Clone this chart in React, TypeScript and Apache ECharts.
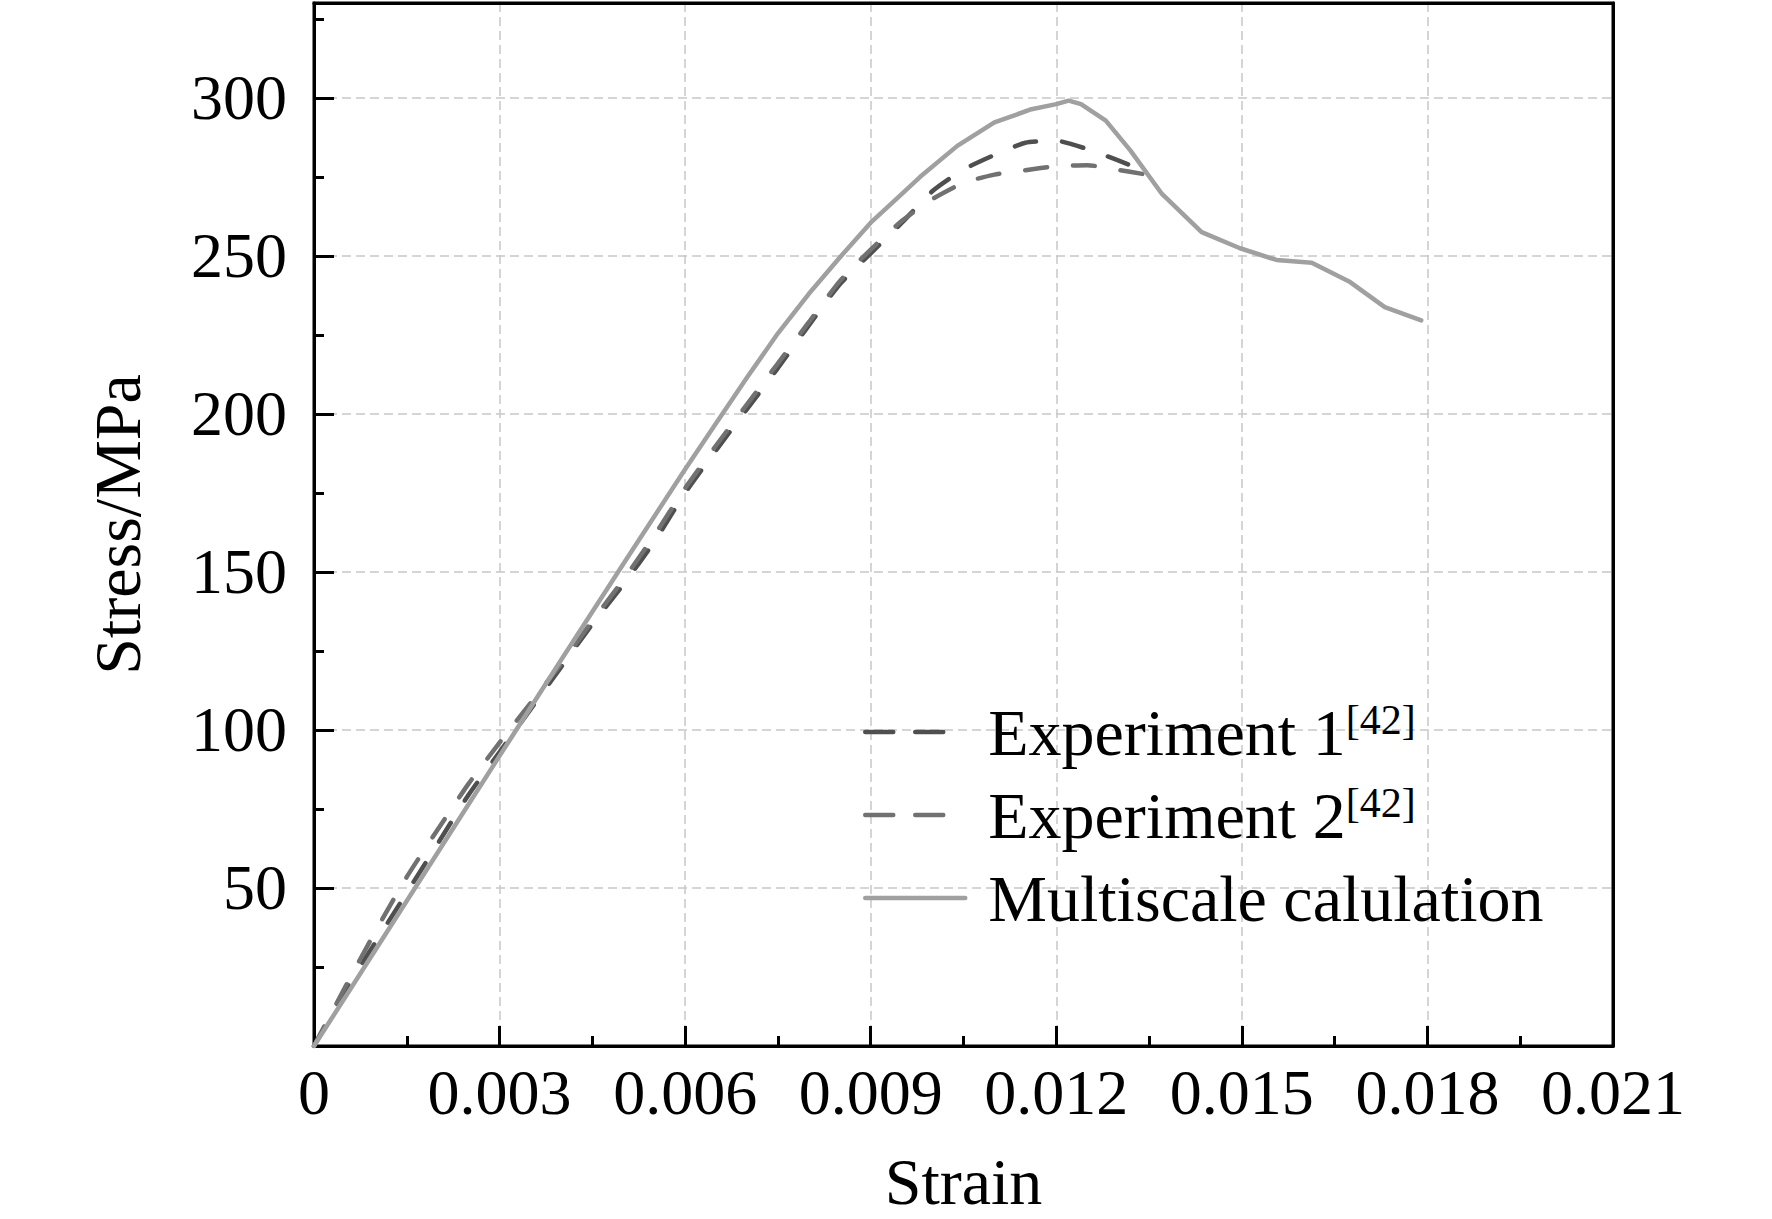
import * as echarts from "echarts";
import { useEffect, useRef } from "react";

// strain / stress readings from the figure
const exp1Strain = [0, 0.0005, 0.001, 0.0015, 0.002, 0.0025, 0.003, 0.0035, 0.004, 0.0045, 0.005, 0.0055, 0.006, 0.0065, 0.007, 0.0075, 0.008, 0.0085, 0.009, 0.0095, 0.01, 0.0105, 0.011, 0.0115, 0.012, 0.0125, 0.013, 0.0134];
const exp1Stress = [0, 17.5, 33, 48.5, 64, 79.5, 93, 106.5, 120, 133.5, 146, 159.5, 175, 188.5, 201.5, 214.5, 228, 241, 250.8, 260.4, 270.5, 277.3, 281.9, 285.8, 286.4, 283.8, 280.2, 277];

const exp2Strain = [0, 0.0005, 0.001, 0.0015, 0.002, 0.0025, 0.003, 0.0035, 0.004, 0.0045, 0.005, 0.0055, 0.006, 0.0065, 0.007, 0.0075, 0.008, 0.0085, 0.009, 0.0095, 0.01, 0.0105, 0.011, 0.0115, 0.012, 0.0125, 0.013, 0.0134];
const exp2Stress = [0, 18.5, 36.5, 53.5, 68.5, 83, 96, 108.5, 121, 134.5, 147.5, 161.5, 176.5, 190, 203, 216, 229, 242, 252, 261, 268, 273.1, 275.7, 277.1, 278.4, 278.7, 277.2, 275.9];

const simStrain = [0, 0.001, 0.002, 0.003, 0.004, 0.005, 0.006, 0.0065, 0.007, 0.0075, 0.008, 0.0085, 0.009, 0.0095, 0.0098, 0.0104, 0.011, 0.0116, 0.012, 0.0122, 0.0124, 0.0128, 0.0132, 0.0137, 0.01435, 0.01497, 0.01556, 0.01613, 0.01675, 0.01731, 0.0179];
const simStress = [0, 30.6, 61.2, 91.8, 122.3, 152.5, 182.5, 197, 211.5, 225.5, 238, 249.5, 260.5, 269.5, 275, 284.8, 292.2, 296.4, 298, 299.1, 298, 292.8, 283.3, 269.8, 257.5, 252.4, 248.7, 247.8, 241.7, 233.8, 229.6];

const seriesNames = ["Experiment 1", "Experiment 2", "Multiscale calulation"];
const seriesColors = ["#4f4f4f", "#717171", "#a0a0a0"];
const yMinorTicks = [25, 75, 125, 175, 225, 275, 325];

const font = "'Liberation Serif', 'Times New Roman', serif";

function pairs(xs: number[], ys: number[]) {
  return xs.map((x, i) => [x, ys[i]]);
}

export default function App() {
  const ref = useRef<HTMLDivElement | null>(null);

  useEffect(() => {
    document.body.style.margin = "0";
    if (!ref.current) {
      return;
    }
    const chart = echarts.init(ref.current, undefined, { renderer: "svg" });
    const gridDash = { color: "#c8c8c8", width: 1.5, type: [9, 5] as number[] };
    const frameLine = { show: true, onZero: false, lineStyle: { color: "#000", width: 3 } };
    const hidden = { show: false };
    chart.setOption({
      animation: false,
      backgroundColor: "#fff",
      grid: {
        left: 314,
        top: 3,
        right: 159,
        bottom: 172,
        show: true,
        borderColor: "#000",
        borderWidth: 3
      },
      legend: {
        orient: "vertical",
        left: 858,
        top: 694,
        itemWidth: 100,
        itemHeight: 20,
        itemGap: 17,
        itemStyle: { opacity: 0 },
        data: [
          { name: seriesNames[0], itemStyle: { opacity: 0 }, lineStyle: { color: seriesColors[0], width: 4.5, type: [28, 22], cap: "round" } },
          { name: seriesNames[1], itemStyle: { opacity: 0 }, lineStyle: { color: seriesColors[1], width: 4.5, type: [28, 22], cap: "round" } },
          { name: seriesNames[2], itemStyle: { opacity: 0 }, lineStyle: { color: seriesColors[2], width: 4.5, type: "solid", cap: "round" } }
        ],
        formatter: (name: string) => (name.startsWith("Experiment") ? `${name}{sup|[42]}` : name),
        textStyle: {
          fontFamily: font,
          fontSize: 66,
          color: "#000",
          padding: [0, 0, 0, 18],
          rich: {
            sup: { fontFamily: font, fontSize: 42, color: "#000", verticalAlign: "top", lineHeight: 50 }
          }
        }
      },
      xAxis: [
        {
          type: "value",
          min: 0,
          max: 0.021,
          interval: 0.003,
          name: "Strain",
          nameLocation: "middle",
          nameGap: 102,
          nameTextStyle: { fontFamily: font, fontSize: 66, color: "#000" },
          axisLine: frameLine,
          axisTick: { inside: true, length: 20, lineStyle: { color: "#000", width: 3 } },
          minorTick: { show: true, splitNumber: 2, length: 10, lineStyle: { color: "#000", width: 3 } },
          axisLabel: {
            fontFamily: font,
            fontSize: 64,
            color: "#000",
            margin: 14,
            formatter: (v: number) => (v === 0 ? "0" : v.toFixed(3))
          },
          splitLine: { show: true, showMinLine: false, showMaxLine: false, lineStyle: gridDash }
        },
        {
          type: "value",
          min: 0,
          max: 0.021,
          position: "top",
          z: 5,
          axisLine: frameLine,
          axisTick: hidden,
          axisLabel: hidden,
          splitLine: hidden
        }
      ],
      yAxis: [
        {
          type: "value",
          min: 0,
          max: 330,
          interval: 50,
          name: "Stress/MPa",
          nameLocation: "middle",
          nameGap: 164,
          nameTextStyle: { fontFamily: font, fontSize: 66, color: "#000" },
          axisLine: frameLine,
          axisTick: { inside: true, length: 20, lineStyle: { color: "#000", width: 3 } },
          axisLabel: {
            fontFamily: font,
            fontSize: 64,
            color: "#000",
            margin: 27,
            formatter: (v: number) => (v === 0 || v === 330 ? "" : String(v))
          },
          splitLine: { show: true, showMinLine: false, showMaxLine: false, lineStyle: gridDash }
        },
        {
          type: "value",
          min: 0,
          max: 330,
          interval: 50,
          position: "left",
          axisLine: hidden,
          axisLabel: hidden,
          splitLine: hidden,
          axisTick: { show: true, inside: true, length: 10, customValues: yMinorTicks, lineStyle: { color: "#000", width: 3 } }
        },
        {
          type: "value",
          min: 0,
          max: 330,
          position: "right",
          z: 5,
          axisLine: frameLine,
          axisTick: hidden,
          axisLabel: hidden,
          splitLine: hidden
        }
      ],
      series: [
        {
          name: seriesNames[0],
          type: "line",
          data: pairs(exp1Strain, exp1Stress),
          showSymbol: false,
          symbol: "none",
          smooth: 0.2,
          color: seriesColors[0],
          lineStyle: { color: seriesColors[0], width: 4.5, type: [22, 26], cap: "round" }
        },
        {
          name: seriesNames[1],
          type: "line",
          data: pairs(exp2Strain, exp2Stress),
          showSymbol: false,
          symbol: "none",
          smooth: 0.2,
          color: seriesColors[1],
          lineStyle: { color: seriesColors[1], width: 4.5, type: [22, 26], cap: "round" }
        },
        {
          name: seriesNames[2],
          type: "line",
          data: pairs(simStrain, simStress),
          showSymbol: false,
          symbol: "none",
          color: seriesColors[2],
          lineStyle: { color: seriesColors[2], width: 4.5, cap: "round", join: "round" }
        }
      ]
    });
    return () => chart.dispose();
  }, []);

  return <div ref={ref} style={{ width: 1772, height: 1219 }} />;
}
